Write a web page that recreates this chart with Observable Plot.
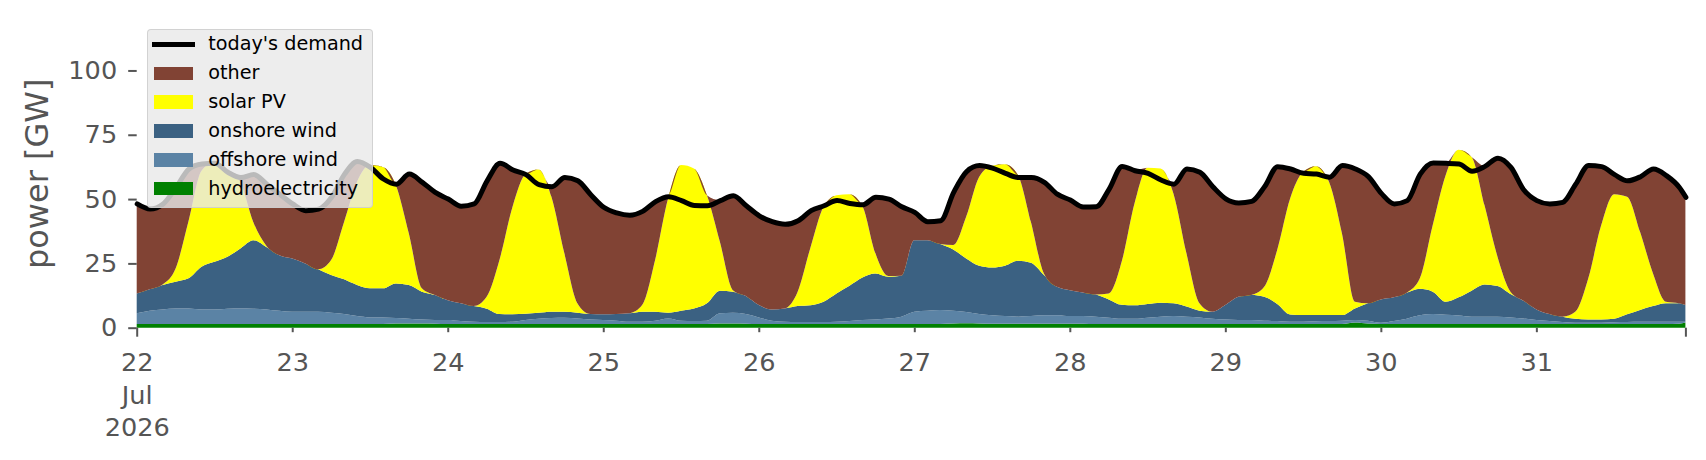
<!DOCTYPE html>
<html><head><meta charset="utf-8">
<script src="https://cdn.jsdelivr.net/npm/d3@7"></script>
<script src="https://cdn.jsdelivr.net/npm/@observablehq/plot@0.6"></script>
<style>
html,body{margin:0;padding:0;background:#fff;}
#wrap{position:relative;width:1706px;height:460px;font-family:"DejaVu Sans",sans-serif;overflow:hidden;}
#legend{position:absolute;left:146.7px;top:29.3px;width:226.3px;height:179px;box-sizing:border-box;background:rgba(232,232,232,0.8);border:1px solid rgba(204,204,204,0.8);border-radius:4px;}
.sw{position:absolute;left:6.3px;width:39.3px;height:13.3px;}
.ln{position:absolute;left:4px;width:43px;height:5px;background:#000;}
.lab{position:absolute;left:60.6px;font-size:19.2px;line-height:22px;white-space:nowrap;color:#000;}
</style></head>
<body><div id="wrap"><div id="chart"></div><div id="legend"></div></div>
<script>
// samples every 2 h from 22 Jul 2026 00:00, plus 31 Jul 23:00
const hydro = [
1.4,1.4,1.4,1.4,1.4,1.4,1.4,1.4,1.4,1.4,1.4,1.4,
1.4,1.4,1.4,1.4,1.4,1.4,1.4,1.4,1.6,1.6,1.6,1.5,
1.4,1.4,1.4,1.4,1.4,1.4,1.4,1.4,1.4,1.4,1.4,1.4,
1.4,1.4,1.4,1.4,1.4,1.4,1.4,1.4,1.4,1.6,1.6,1.5,
1.4,1.4,1.4,1.4,1.4,1.4,1.4,1.4,1.4,1.4,1.4,1.4,
1.4,1.4,1.4,1.6,1.7,1.6,1.5,1.5,1.5,1.5,1.5,1.5,
1.5,1.5,1.4,1.4,1.4,1.4,1.4,1.4,1.4,1.4,1.4,1.4,
1.4,1.4,1.4,1.4,1.4,1.4,1.4,1.4,1.4,1.4,2.0,1.6,
1.4,1.4,1.4,1.4,1.4,1.4,1.4,1.4,1.4,1.4,1.4,1.4,
1.4,1.4,1.4,1.4,1.4,1.4,1.4,1.4,1.4,1.4,1.4,1.5,2.0];
const offshore = [
4.2,5.2,5.7,6.1,6.1,5.7,5.7,6.0,6.1,6.0,5.7,5.2,
4.8,4.8,4.8,4.4,3.9,3.1,2.6,2.6,2.2,1.9,1.6,1.5,
1.6,1.2,0.9,0.8,0.8,0.9,1.6,2.1,2.4,2.5,2.2,1.8,
1.6,1.3,0.9,0.9,1.3,2.2,1.3,1.2,1.3,4.0,4.2,3.8,
2.6,1.3,0.9,0.8,0.8,0.8,0.9,1.2,1.6,1.8,2.2,2.9,
4.8,5.2,5.5,5.0,4.4,3.7,3.3,3.0,2.8,3.0,3.3,3.3,
3.0,3.0,2.9,2.5,2.1,2.1,2.5,2.9,3.1,2.9,2.6,2.1,
1.8,1.6,1.6,1.3,1.2,0.9,0.9,1.1,1.2,1.3,1.0,1.1,
0.5,1.2,2.1,3.4,3.9,3.6,3.3,2.9,2.9,2.9,2.6,2.2,
1.6,1.2,0.8,0.5,0.5,0.5,0.7,0.8,0.9,0.9,0.9,0.8,0.3];
const onshore = [
7.7,8.3,9.5,10.4,11.7,16.6,18.5,20.2,23.3,26.6,24.3,21.6,
20.7,18.8,16.5,14.7,13.5,12.1,11.3,11.3,13.4,13.1,10.8,9.7,
7.7,6.9,6.1,5.2,3.1,2.9,2.4,2.3,2.4,2.3,2.2,2.1,
2.2,2.6,3.3,3.9,3.5,2.2,3.9,4.9,6.8,8.8,8.2,7.0,
4.8,4.4,5.2,6.2,6.5,7.9,11.0,13.7,16.5,17.9,16.2,15.9,
27.8,27.4,25.6,23.8,20.8,18.8,18.6,19.6,21.7,20.7,15.7,11.1,
10.1,9.2,8.6,7.1,5.4,5.2,5.3,5.4,5.0,3.9,2.6,2.7,
5.6,9.0,9.7,9.3,6.6,2.8,2.6,2.4,2.3,2.2,4.5,6.8,
9.1,9.2,10.1,10.3,8.7,5.1,7.1,10.1,12.5,11.9,9.1,6.9,
4.1,2.7,2.1,1.6,1.3,1.3,1.4,3.0,4.6,6.1,7.2,7.2,6.5];
const solar = [
0,0,0.2,5.1,22.3,37.3,38.7,33.6,25.7,7.0,0.5,0,
0,0,0,5.8,22.3,40.1,47.9,47.2,38.2,20.0,1.3,0,
0,0,0,4.6,21.2,41.8,54.3,55.7,44.7,22.7,3.7,0,
0,0,0,2.6,20.1,44.4,56.6,54.4,42.0,19.0,0.6,0,
0,0,0,5.6,22.7,36.9,38.2,35.6,27.7,7.8,0.3,0,
0,0,0,1.7,16.2,34.5,39.6,39.4,33.3,15.9,0.6,0,
0,0,0,2.3,16.7,39.8,53.0,52.2,42.6,20.7,2.9,0,
0,0,0,3.9,21.0,45.1,55.7,57.9,51.8,31.7,2.6,0,
0,0,0,4.0,25.8,49.2,57.4,52.0,30.8,11.4,0.9,0,
0,0,0,2.7,15.9,36.6,48.4,45.7,30.4,12.7,0.6,0,0];
const other = [
35.0,31.4,31.5,31.7,20.4,2.8,0,0,2.1,18.7,24.1,23.9,
21.4,20.7,23.6,24.6,18.8,8.1,0,0,0.6,23.3,41.4,40.1,
39.5,37.9,39.9,45.3,37.6,14.5,0,0,4.1,29.7,47.8,46.6,
41.8,39.5,38.3,36.6,22.9,0.9,0,0,0,16.2,36.9,35.3,
34.9,34.3,32.9,27.8,14.3,0.6,0,0,0.8,22.0,30.1,27.0,
11.0,7.4,9.3,20.7,17.8,4.6,0,0,0,17.5,35.6,36.2,
35.2,33.4,34.3,40.8,37.3,12.7,0,0,3.9,33.0,51.1,48.8,
41.5,36.7,36.6,39.2,32.6,11.7,0,0,2.0,26.6,51.8,49.4,
41.4,36.5,36.0,40.8,24.4,4.8,0,0,15.3,38.5,48.5,43.2,
42.5,43.0,44.6,49.8,44.1,23.0,7.8,6.4,21.6,40.8,49.2,45.2,42.1];
const demand = [
48.3,46.3,48.3,54.7,61.9,63.8,64.1,60.6,58.6,59.7,56.0,52.1,
48.3,45.7,46.3,50.9,59.9,64.8,62.5,58.0,56.0,59.9,56.7,52.8,
50.2,47.4,48.3,57.3,64.1,61.5,59.7,55.8,55.0,58.6,57.3,51.9,
47.0,44.8,43.9,45.4,49.2,51.1,49.6,47.7,47.6,49.6,51.5,47.6,
43.7,41.4,40.4,41.8,45.7,47.6,49.6,48.5,48.0,50.9,50.2,47.2,
45.0,41.4,41.8,52.8,60.9,63.2,62.2,60.2,58.6,58.6,56.7,52.1,
49.8,47.1,47.2,54.1,62.9,61.2,60.2,57.6,56.0,61.9,60.6,55.0,
50.3,48.7,49.3,55.1,62.8,61.9,60.2,59.9,58.7,63.2,61.9,58.9,
52.4,48.3,49.6,59.9,64.2,64.1,63.8,61.0,62.9,66.1,62.5,53.7,
49.6,48.3,48.9,56.0,63.2,62.8,59.7,57.3,58.9,61.9,59.3,54.7,50.9];

const seriesNames = ["hydroelectricity","offshore wind","onshore wind","solar PV","other"];
const seriesColors = ["#008000","#5b83a5","#3b6182","#ffff00","#814334"];
const yTicks = [0,25,50,75,100];
const xTickLabels = ["22\nJul\n2026","23","24","25","26","27","28","29","30","31"];
const legendLabels = ["today's demand","other","solar PV","onshore wind","offshore wind","hydroelectricity"];
const legendColors = ["#000000","#814334","#ffff00","#3b6182","#5b83a5","#008000"];

const start = Date.UTC(2026, 6, 22);
const hourOffsets = d3.range(0, 240, 2).concat([239]);
const times = hourOffsets.map(h => new Date(start + h * 3600e3));
const seriesValues = [hydro, offshore, onshore, solar, other];
const rows = [];
seriesNames.forEach((name, s) => seriesValues[s].forEach((v, i) => rows.push({time: times[i], series: name, value: v})));
const demandRows = demand.map((v, i) => ({time: times[i], value: v}));
const dayTicks = d3.range(0, 10).map(d => new Date(start + d * 86400e3));
const endTick = times[times.length - 1];

const chart = Plot.plot({
  width: 1706, height: 460,
  marginLeft: 136.7, marginRight: 20.6, marginTop: 19, marginBottom: 132.3,
  style: {fontFamily: "DejaVu Sans", color: "#555", background: "#fff", overflow: "visible"},
  x: {type: "utc", domain: [new Date(start), endTick]},
  y: {domain: [0, 120]},
  color: {domain: seriesNames, range: seriesColors},
  marks: [
    Plot.areaY(rows, {x: "time", y: "value", z: "series", fill: "series", order: seriesNames, curve: "monotone-x"}),
    Plot.line(demandRows, {x: "time", y: "value", stroke: "#000", strokeWidth: 5, strokeLinejoin: "round", curve: "monotone-x"}),
    Plot.axisY({ticks: yTicks, tickSize: 8.5, tickPadding: 11.5, fontSize: 25.6, strokeWidth: 2, label: null, tickFormat: d => String(d)}),
    Plot.axisX({ticks: dayTicks.slice(1), tickSize: 4.5, tickFormat: () => "", strokeWidth: 2, label: null}),
    Plot.axisX({ticks: [dayTicks[0], endTick], tickSize: 9, tickFormat: () => "", strokeWidth: 2, label: null}),
    Plot.text(dayTicks, {x: d => d, text: (d, i) => xTickLabels[i], frameAnchor: "bottom", lineAnchor: "top", dy: 20, fontSize: 25.6, fill: "#555", lineHeight: 1.27}),
    Plot.text(["power [GW]"], {text: d => d, frameAnchor: "left", textAnchor: "middle", rotate: -90, dx: -99.7, fontSize: 32, fill: "#555"})
  ]
});
document.getElementById("chart").appendChild(chart);

const legend = document.getElementById("legend");
legendLabels.forEach((lab, i) => {
  const c = 14 + 28.9 * i;
  const h = document.createElement("div");
  if (i === 0) { h.className = "ln"; h.style.top = (c - 2.5) + "px"; }
  else { h.className = "sw"; h.style.top = (c - 6.65) + "px"; h.style.background = legendColors[i]; }
  legend.appendChild(h);
  const t = document.createElement("div");
  t.className = "lab"; t.style.top = (c - 10.8) + "px"; t.textContent = lab;
  legend.appendChild(t);
});
</script></body></html>
